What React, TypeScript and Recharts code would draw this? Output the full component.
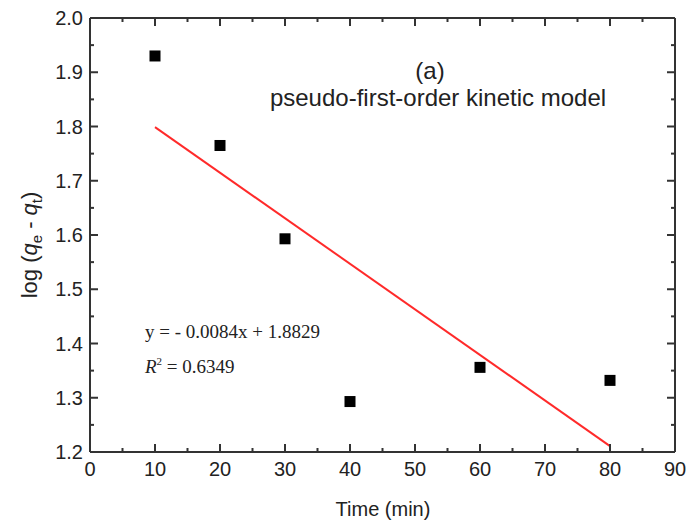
import {
    ComposedChart,
    Line,
    Scatter,
    XAxis,
    YAxis,
} from "recharts";

const timeMin = [10, 20, 30, 40, 60, 80];
const logQ = [1.93, 1.765, 1.593, 1.293, 1.356, 1.332];
const fitTime = [10, 80];
const fitLogQ = [1.7989, 1.2109];
const xTicks = [0, 5, 10, 15, 20, 25, 30, 35, 40, 45, 50, 55, 60, 65, 70, 75, 80, 85, 90];
const yTicks = [1.2, 1.25, 1.3, 1.35, 1.4, 1.45, 1.5, 1.55, 1.6, 1.65, 1.7, 1.75, 1.8, 1.85, 1.9, 1.95, 2.0];

const points = timeMin.map((t, i) => ({ x: t, y: logQ[i] }));
const fitLine = fitTime.map((t, i) => ({ x: t, y: fitLogQ[i] }));

const SANS = '"Liberation Sans", Arial, sans-serif';
const SERIF = '"Liberation Serif", "Times New Roman", serif';
const AXIS = "#333";

function renderTick(props: any, side: string) {
    const { x, y, payload } = props;
    const v = payload.value;
    const isX = side === "bottom" || side === "top";
    const major = isX ? v % 10 === 0 : Math.round(v * 100) % 10 === 0;
    const len = major ? 8 : 4;
    let line;
    if (side === "bottom") line = <line x1={x} x2={x} y1={y} y2={y - len} stroke={AXIS} strokeWidth={2} />;
    else if (side === "top") line = <line x1={x} x2={x} y1={y} y2={y + len} stroke={AXIS} strokeWidth={2} />;
    else if (side === "left") line = <line x1={x} x2={x + len} y1={y} y2={y} stroke={AXIS} strokeWidth={2} />;
    else line = <line x1={x} x2={x - len} y1={y} y2={y} stroke={AXIS} strokeWidth={2} />;
    return (
        <g>
            {line}
            {major && side === "bottom" && (
                <text x={x} y={y + 24} textAnchor="middle" fontSize={20} fontFamily={SANS} fill="#222">
                    {v}
                </text>
            )}
            {major && side === "left" && (
                <text x={x - 7} y={y + 7} textAnchor="end" fontSize={20} fontFamily={SANS} fill="#222">
                    {v.toFixed(1)}
                </text>
            )}
        </g>
    );
}

const SquareDot = (props: any) => {
    const { cx, cy } = props;
    return <rect x={cx - 5.5} y={cy - 5.5} width={11} height={11} fill="#000" />;
};

export default function App() {
    return (
        <div style={{ position: "absolute", left: 0, top: 0, width: 691, height: 530, background: "#fff" }}>
            <ComposedChart
                width={691}
                height={530}
                margin={{ top: 8, right: 6, bottom: 38, left: 40 }}
            >
                <XAxis
                    xAxisId="main"
                    type="number"
                    dataKey="x"
                    domain={[0, 90]}
                    ticks={xTicks}
                    interval={0}
                    height={40}
                    tickSize={0}
                    tickMargin={0}
                    tickLine={false}
                    axisLine={{ stroke: AXIS, strokeWidth: 2 }}
                    tick={(p: any) => renderTick(p, "bottom")}
                />
                <XAxis
                    xAxisId="top"
                    orientation="top"
                    type="number"
                    dataKey="x"
                    domain={[0, 90]}
                    ticks={xTicks}
                    interval={0}
                    height={10}
                    tickSize={0}
                    tickMargin={0}
                    tickLine={false}
                    axisLine={{ stroke: AXIS, strokeWidth: 2 }}
                    tick={(p: any) => renderTick(p, "top")}
                />
                <YAxis
                    yAxisId="main"
                    type="number"
                    dataKey="y"
                    domain={[1.2, 2.0]}
                    ticks={yTicks}
                    interval={0}
                    width={50}
                    tickSize={0}
                    tickMargin={0}
                    tickLine={false}
                    axisLine={{ stroke: AXIS, strokeWidth: 2 }}
                    tick={(p: any) => renderTick(p, "left")}
                />
                <YAxis
                    yAxisId="right"
                    orientation="right"
                    type="number"
                    dataKey="y"
                    domain={[1.2, 2.0]}
                    ticks={yTicks}
                    interval={0}
                    width={10}
                    tickSize={0}
                    tickMargin={0}
                    tickLine={false}
                    axisLine={{ stroke: AXIS, strokeWidth: 2 }}
                    tick={(p: any) => renderTick(p, "right")}
                />
                <Scatter
                    xAxisId="top"
                    yAxisId="right"
                    data={points}
                    shape={() => <g />}
                    isAnimationActive={false}
                />
                <Line
                    xAxisId="main"
                    yAxisId="main"
                    data={fitLine}
                    dataKey="y"
                    stroke="#ff2a2a"
                    strokeWidth={2}
                    dot={false}
                    activeDot={false}
                    isAnimationActive={false}
                />
                <Scatter
                    xAxisId="main"
                    yAxisId="main"
                    data={points}
                    shape={SquareDot}
                    isAnimationActive={false}
                />
                <text x={430} y={79} textAnchor="middle" fontSize={24} fontFamily={SANS} fill="#222">
                    (a)
                </text>
                <text x={438} y={106} textAnchor="middle" fontSize={24} fontFamily={SANS} fill="#222">
                    pseudo-first-order kinetic model
                </text>
                <text x={145} y={338} fontSize={19} fontFamily={SERIF} fill="#222">
                    y = - 0.0084x + 1.8829
                </text>
                <text x={145} y={373} fontSize={19} fontFamily={SERIF} fill="#222">
                    <tspan fontStyle="italic">R</tspan>
                    <tspan fontSize={11} dy={-8}>2</tspan>
                    <tspan dy={8}> = 0.6349</tspan>
                </text>
                <text x={383} y={516} textAnchor="middle" fontSize={20} fontFamily={SANS} fill="#222">
                    Time (min)
                </text>
                <text
                    x={37}
                    y={245}
                    transform="rotate(-90, 37, 245)"
                    textAnchor="middle"
                    fontSize={22}
                    fontFamily={SANS}
                    fill="#222"
                >
                    log (<tspan fontStyle="italic">q</tspan>
                    <tspan fontSize={15} dy={5}>e</tspan>
                    <tspan dy={-5}> - </tspan>
                    <tspan fontStyle="italic">q</tspan>
                    <tspan fontSize={15} dy={5}>t</tspan>
                    <tspan dy={-5}>)</tspan>
                </text>
            </ComposedChart>
        </div>
    );
}
